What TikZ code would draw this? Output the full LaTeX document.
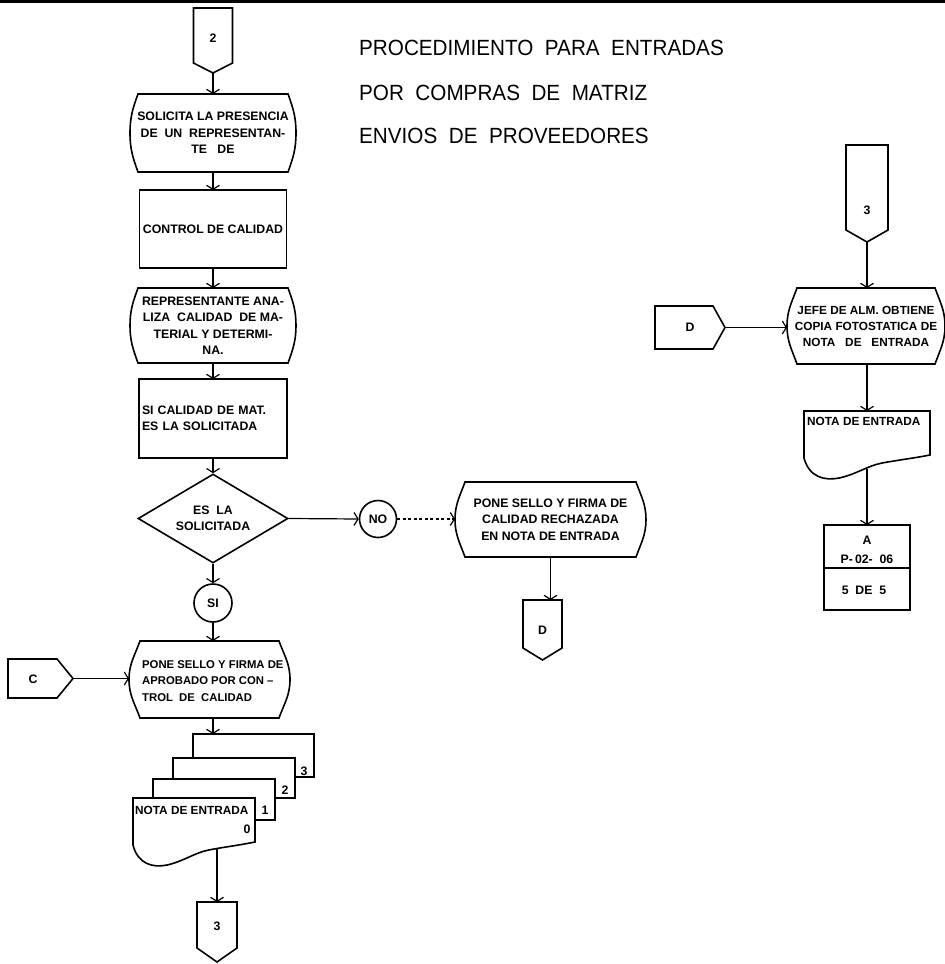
\documentclass[tikz,border=0pt]{standalone}
\usepackage{fontspec}
\setmainfont{Liberation Sans}
\usetikzlibrary{arrows.meta,calc,shapes.geometric}

% process box with bowed left and right sides: #1 node, #2 corner inset
\newcommand{\procoutline}[2]{%
  \draw[outline] ($(#1.north west)+(#2,0)$) -- ($(#1.north east)+(-#2,0)$)
    to[out=-70,in=90] (#1.east) to[out=-90,in=70] ($(#1.south east)+(-#2,0)$)
    -- ($(#1.south west)+(#2,0)$) to[out=110,in=-90] (#1.west)
    to[out=90,in=-110] ($(#1.north west)+(#2,0)$) -- cycle;}
% off-page connector pointing down: #1 node (square part), #2 point length
\newcommand{\offdown}[2]{%
  \draw[outline] (#1.south west) -- (#1.north west) -- (#1.north east)
    -- (#1.south east) -- ($(#1.south)+(0,-#2)$) -- cycle;}
% off-page connector pointing right
\newcommand{\offright}[2]{%
  \draw[outline] (#1.north east) -- (#1.north west) -- (#1.south west)
    -- (#1.south east) -- ($(#1.east)+(#2,0)$) -- cycle;}
% document with wavy lower edge: #1 node (north west corner), #2 width
\newcommand{\docoutline}[2]{%
  \begin{scope}[shift={(#1.north west)}]
  \draw[outline, fill=white] (0,0) -- (#2,0) -- (#2,-44)
    .. controls (0.88*#2,-47) and (0.75*#2,-49) .. (0.62*#2,-52)
    .. controls (0.5*#2,-55) and (0.42*#2,-63) .. (0.28*#2,-67)
    .. controls (0.16*#2,-70) and (0.04*#2,-66) .. (0,-47) -- cycle;
  \end{scope}}

\tikzset{
  outline/.style={line width=1.6pt, line join=miter},
  holder/.style={draw=none, inner sep=0pt, outer sep=0pt},
  txt/.style={font=\bfseries\fontsize{12.3}{16.5}\selectfont, inner sep=0pt},
  smalltxt/.style={font=\bfseries\fontsize{11.8}{16}\selectfont, inner sep=0pt},
  ponetxt/.style={font=\bfseries\fontsize{11.3}{16.5}\selectfont, inner sep=0pt},
  rectbox/.style={draw, line width=1.6pt, inner sep=0pt, outer sep=0pt, txt},
  roundbox/.style={draw, circle, line width=1.6pt, inner sep=0pt, txt},
  flow/.style={line width=1.2pt, -{Straight Barb[length=4pt,width=13pt,line width=1.2pt]}},
  dashflow/.style={flow, dash pattern=on 3pt off 2.5pt},
  titletext/.style={font=\fontsize{22}{44}\selectfont, inner sep=0pt, anchor=base west}
}

\begin{document}
\begin{tikzpicture}[x=1pt,y=1pt]
\useasboundingbox (0,0) rectangle (945,-964);
\draw[line width=3pt] (0,-1.5) -- (945,-1.5);

% heading
\node[titletext] (t1) at (359,-55) {\scalebox{0.94}[1]{PROCEDIMIENTO\ \ PARA\ \ ENTRADAS}};
\node[titletext] (t2) at (359,-100) {\scalebox{0.94}[1]{POR\ \ COMPRAS\ \ DE\ \ MATRIZ}};
\node[titletext] (t3) at (359,-143) {\scalebox{0.94}[1]{ENVIOS\ \ DE\ \ PROVEEDORES}};

% ---- left column ----
\node[holder, minimum width=39pt, minimum height=55pt] (c2) at (213,-35.5) {};
\offdown{c2}{10}
\coordinate (c2tip) at ($(c2.south)+(0,-10)$);
\node[txt] (c2t) at (213,-38) {2};

\node[holder, txt, align=center, minimum width=166pt, minimum height=78pt] (sol) at (213,-133)
  {SOLICITA LA PRESENCIA\\DE\ \ UN\ \ REPRESENTAN-\\TE\ \ \ DE};
\procoutline{sol}{8}

\node[rectbox, minimum width=147pt, minimum height=78pt] (ctl) at (213,-229) {CONTROL DE CALIDAD};

\node[holder, txt, align=center, minimum width=166pt, minimum height=75pt] (rep) at (213,-325.5)
  {REPRESENTANTE ANA-\\LIZA\ \ CALIDAD\ \ DE MA-\\TERIAL Y DETERMI-\\NA.};
\procoutline{rep}{8}

\node[rectbox, minimum width=148pt, minimum height=79pt, text width=142pt, align=left] (sic) at (213,-418.5)
  {SI CALIDAD DE MAT.\\ES LA SOLICITADA};

\node[draw, diamond, aspect=1.7, line width=1.6pt, minimum width=150pt, minimum height=89pt,
  inner sep=0pt, txt, align=center] (dec) at (213,-518.5) {ES\ \ LA\\SOLICITADA};

\node[roundbox, minimum size=37pt] (no) at (378,-519) {NO};
\node[roundbox, minimum size=38pt] (si) at (213,-603) {SI};

\node[holder, txt, align=center, minimum width=191pt, minimum height=75pt] (rej) at (550.5,-519.5)
  {PONE SELLO Y FIRMA DE\\CALIDAD RECHAZADA\\EN NOTA DE ENTRADA};
\procoutline{rej}{10}

\node[holder, minimum width=39pt, minimum height=48pt] (dd) at (542.5,-624) {};
\offdown{dd}{12}
\node[txt] (ddt) at (542.5,-630) {D};

\node[holder, minimum width=49pt, minimum height=39pt] (cc) at (32.5,-678.5) {};
\offright{cc}{16}
\coordinate (cctip) at ($(cc.east)+(16,0)$);
\node[txt] (cct) at (33,-679) {C};

\node[holder, minimum width=161pt, minimum height=77pt] (pone) at (209.5,-679.5) {};
\procoutline{pone}{11}
\node[ponetxt, align=left, anchor=west] (ponet) at (142,-681)
  {PONE SELLO Y FIRMA DE\\APROBADO POR CON\ --\\TROL\ \ DE\ \ CALIDAD};

% copies of the entry note
\node[rectbox, fill=white, minimum width=121pt, minimum height=43pt] (doc3) at (253.5,-755.5) {};
\node[rectbox, fill=white, minimum width=122pt, minimum height=40pt] (doc2) at (234,-778) {};
\node[rectbox, fill=white, minimum width=122pt, minimum height=41pt] (doc1) at (214,-799.5) {};
\node[holder, anchor=north west, minimum width=122pt, minimum height=52pt] (doc0) at (133,-798) {};
\docoutline{doc0}{122}
\coordinate (doc0out) at ($(doc0.north west)+(84,-51)$);
\node[txt] (n3) at (304,-771) {3};
\node[txt] (n2) at (285,-790) {2};
\node[txt] (n1) at (265,-810) {1};
\node[txt] (n0) at (247,-829) {0};
\node[smalltxt, anchor=west] (doc0t) at (135,-810) {NOTA DE ENTRADA};

\node[holder, minimum width=40pt, minimum height=46pt] (c3) at (217,-925) {};
\offdown{c3}{14}
\node[txt] (c3t) at (217,-926) {3};

% ---- right column ----
\node[holder, minimum width=42pt, minimum height=85pt] (c3r) at (867,-187.5) {};
\offdown{c3r}{12}
\coordinate (c3rtip) at ($(c3r.south)+(0,-12)$);
\node[txt] (c3rt) at (867,-210) {3};

\node[holder, smalltxt, align=center, minimum width=158pt, minimum height=76pt] (jefe) at (866,-326)
  {JEFE DE ALM. OBTIENE\\COPIA FOTOSTATICA DE\\NOTA\ \ \ DE\ \ \ ENTRADA};
\procoutline{jefe}{10}

\node[holder, minimum width=58pt, minimum height=43pt] (dr) at (684,-327.5) {};
\offright{dr}{12}
\coordinate (drtip) at ($(dr.east)+(12,0)$);
\node[txt] (drt) at (690,-327.5) {D};

\node[holder, anchor=north west, minimum width=126pt, minimum height=57pt] (docr) at (804,-411) {};
\docoutline{docr}{126}
\coordinate (docrout) at ($(docr.north west)+(63,-58)$);
\node[smalltxt, anchor=west] (docrt) at (807,-421) {NOTA DE ENTRADA};

\node[rectbox, minimum width=86pt, minimum height=85pt] (boxa) at (867,-567.5) {};
\draw[outline] ($(boxa.north west)+(0,-43)$) -- ($(boxa.north east)+(0,-43)$);
\node[txt] (ba1) at (867,-540) {A};
\node[txt] (ba2) at (867,-559) {P-\,02-\ \ 06};
\node[txt] (ba3) at (864,-590) {5\ \ DE\ \ 5};

% ---- connectors ----
\draw[flow] (c2tip) -- (c2tip |- sol.north);
\draw[flow] (sol.south) -- (ctl.north);
\draw[flow] (ctl.south) -- (rep.north);
\draw[flow] (rep.south) -- (sic.north);
\draw[flow] (sic.south) -- (dec.north);
\draw[flow] (dec.east) -- (no.west);
\draw[dashflow] (no.east) -- (no.east -| rej.west);
\draw[flow] (rej.south) -- (rej.south |- dd.north);
\draw[flow] (dec.south) -- (si.north);
\draw[flow] (si.south) -- (si.south |- pone.north);
\draw[flow] (cctip) -- (cctip -| pone.west);
\draw[flow] (si.south |- pone.south) -- (si.south |- doc3.north);
\draw[flow] (doc0out) -- (doc0out |- c3.north);
\draw[flow] (c3rtip) -- (c3rtip |- jefe.north);
\draw[flow] (drtip) -- (drtip -| jefe.west);
\draw[flow] (c3rtip |- jefe.south) -- (c3rtip |- docr.north);
\draw[flow] (docrout) -- (docrout |- boxa.north);
\end{tikzpicture}
\end{document}
